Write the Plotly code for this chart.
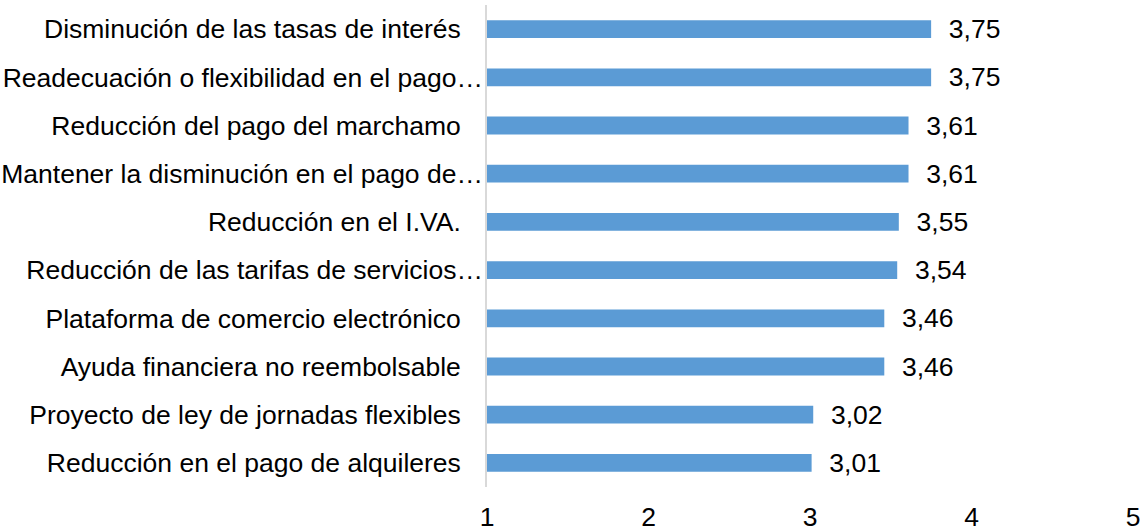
import plotly.graph_objects as go

# categories listed top to bottom, as in the chart
medidas = [
    "Disminución de las tasas de interés",
    "Readecuación o flexibilidad en el pago…",
    "Reducción del pago del marchamo",
    "Mantener la disminución en el pago de…",
    "Reducción en el I.VA.",
    "Reducción de las tarifas de servicios…",
    "Plataforma de comercio electrónico",
    "Ayuda financiera no reembolsable",
    "Proyecto de ley de jornadas flexibles",
    "Reducción en el pago de alquileres",
]
promedios = [3.75, 3.75, 3.61, 3.61, 3.55, 3.54, 3.46, 3.46, 3.02, 3.01]
x_ticks = [1, 2, 3, 4, 5]

# truncated labels run right up to the axis, the others keep a gap
pad = "\u00a0" * 3
etiquetas = [m if m.endswith("…") else m + pad for m in medidas]

fig = go.Figure()
# bars start at 1 (axis origin), length = value - 1
fig.add_trace(go.Bar(
    x=[v - 1 for v in promedios],
    y=medidas,
    base=1,
    orientation="h",
    width=0.37,
    marker=dict(color="#5B9BD5", line=dict(width=0)),
    text=promedios,
    texttemplate="\u00a0\u00a0%{text:.2f}",
    textposition="outside",
    constraintext="none",
    cliponaxis=False,
    textfont=dict(size=26.5, color="#000000"),
    hoverinfo="skip",
))

fig.update_layout(
    width=1143,
    height=531,
    margin=dict(l=487, r=10, t=5, b=44),
    paper_bgcolor="white",
    plot_bgcolor="white",
    separators=",.",
    showlegend=False,
    font=dict(family="Liberation Sans, Arial, sans-serif", size=26.5, color="#000000"),
    xaxis=dict(
        range=[1, 5],
        tickvals=x_ticks,
        ticktext=[str(t) for t in x_ticks],
        showgrid=False,
        zeroline=False,
        showline=False,
        ticks="",
        ticklabelstandoff=11,
        automargin=False,
    ),
    yaxis=dict(
        categoryorder="array",
        categoryarray=medidas,
        autorange="reversed",
        tickvals=medidas,
        ticktext=etiquetas,
        showgrid=False,
        zeroline=False,
        showline=True,
        linecolor="#D9D9D9",
        linewidth=1.5,
        ticks="",
        ticklabelstandoff=-3,
        automargin=False,
    ),
)

fig.write_html("out.html", config={"displayModeBar": False},
               post_script="document.body.style.margin='0';")
